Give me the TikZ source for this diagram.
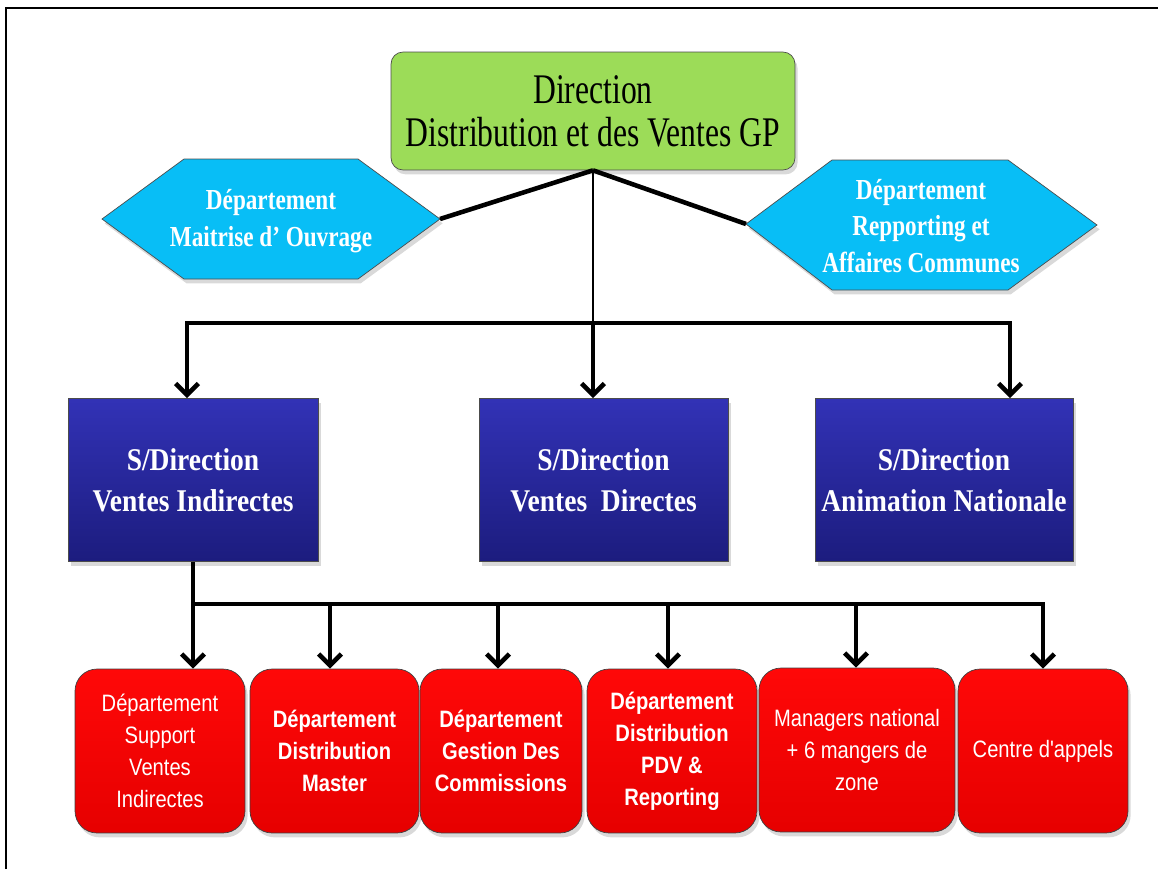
\documentclass[tikz,border=0pt]{standalone}
\usepackage{fontspec}
\usepackage{xcolor}
\usetikzlibrary{arrows.meta, positioning, shadows}
\newfontfamily\titlefont[FakeStretch=0.75]{Liberation Serif}
\newfontfamily\deptfont[FakeStretch=0.8]{Liberation Serif}
\newfontfamily\subfont[FakeStretch=0.87]{Liberation Serif}
\newfontfamily\boxfont[FakeStretch=0.85]{Liberation Sans}
\definecolor{dirgreen}{RGB}{156,220,88}
\definecolor{hexcyan}{RGB}{8,190,246}
\definecolor{sdtop}{RGB}{50,50,182}
\definecolor{sdbot}{RGB}{28,28,126}
\definecolor{redtop}{RGB}{255,8,8}
\definecolor{redbot}{RGB}{230,0,0}
\tikzset{
    softshadow/.style={drop shadow={opacity=0.3, shadow xshift=1.5pt, shadow yshift=-2.5pt}},
    head/.style={rectangle, draw=black!70, fill=dirgreen, rounded corners=0.24cm, minimum width=8.08cm, minimum height=2.36cm, align=center, font=\titlefont\fontsize{24}{24.5}\selectfont, softshadow},
    subdir/.style={rectangle, draw=black!70, top color=sdtop, bottom color=sdbot, minimum height=3.26cm, inner xsep=1pt, align=center, text=white, font=\subfont\bfseries\fontsize{18}{23.3}\selectfont, softshadow},
    dept/.style={rectangle, draw=black!75, rounded corners=0.44cm, top color=redtop, bottom color=redbot, minimum width=3.4cm, minimum height=3.28cm, align=center, text=white, font=\boxfont\fontsize{13.5}{18.2}\selectfont, softshadow},
    hexa/.style={draw=black!70, fill=hexcyan, softshadow},
    hextext/.style={align=center, text=white, font=\deptfont\bfseries\fontsize{16.5}{21}\selectfont},
    wire/.style={line width=2.6pt},
    arr/.style={line width=2.6pt, -{Straight Barb[length=6.5pt, width=13pt]}},
    arrtwo/.style={line width=2.6pt, {Straight Barb[length=6.5pt, width=13pt]}-{Straight Barb[length=6.5pt, width=13pt]}},
}

\begin{document}
\begin{tikzpicture}[x=0.02cm, y=-0.02cm]
    \useasboundingbox (0,0) rectangle (1166,869);
    % Frame
    \draw[line width=0.9pt] (6,869) -- (6,8) -- (1158,8);
    % Row 1: Direction
    \node [head] (dir) at (593,111) {Direction\\Distribution et des Ventes GP};
    % Row 1: side departments (hexagons)
    \draw [hexa] (102,219) -- (184,159) -- (358,159) -- (440,219) -- (358,279) -- (184,279) -- cycle;
    \coordinate (dmo-tip) at (440,219);
    \node [hextext] (dmo) at (271,221) {Département\\Maitrise d’ Ouvrage};
    \draw [hexa] (746,224) -- (832,160) -- (1008,160) -- (1097,225) -- (1008,290) -- (832,290) -- cycle;
    \coordinate (drac-tip) at (746,224);
    \node [hextext] (drac) at (921,226) {Département\\Repporting et\\Affaires Communes};
    % Row 2: Sous-directions
    \node [subdir, minimum width=5.0cm] (sdvi) at (193,480) {S/Direction\\Ventes Indirectes};
    \node [subdir, minimum width=4.98cm] (sdvd) at (603.5,480) {S/Direction\\Ventes~ Directes};
    \node [subdir, minimum width=5.16cm] (sdan) at (944,480) {S/Direction\\Animation Nationale};
    % Row 3: Departments under Ventes Indirectes
    \node [dept] (dsvi) at (160,751) {Département\\Support\\Ventes\\Indirectes};
    \node [dept, minimum width=3.38cm, font=\boxfont\bfseries\fontsize{13.5}{18.2}\selectfont] (ddm) at (334.5,751) {Département\\Distribution\\Master};
    \node [dept, minimum width=3.24cm, font=\boxfont\bfseries\fontsize{13.5}{18.2}\selectfont] (dgc) at (501,751) {Département\\Gestion Des\\Commissions};
    \node [dept, font=\boxfont\bfseries\fontsize{13.5}{18.2}\selectfont] (ddpr) at (672,751) {Département\\Distribution\\PDV \&\\Reporting};
    \node [dept, minimum width=3.92cm] (mgr) at (857,750) {Managers national\\+ 6 mangers de\\zone};
    \node [dept] (cda) at (1043,751) {Centre d'appels};
    % Links from Direction
    \draw [wire] (dir.south) -- (dmo-tip);
    \draw [wire] (dir.south) -- (drac-tip);
    \coordinate (bus-w) at (187,323);
    \coordinate (bus-c) at (dir.south |- bus-w);
    \coordinate (bus-e) at (1010,323);
    \draw [line width=1.5pt] (dir.south) -- (bus-c);
    \draw [arrtwo] (bus-w |- sdvi.north) -- (bus-w) -- (bus-e) -- (bus-e |- sdan.north);
    \draw [arr] (bus-c) -- (bus-c |- sdvd.north);
    % Links from Ventes Indirectes
    \coordinate (low-w) at (sdvi.south |- 0,604);
    \coordinate (low-e) at (cda.north |- 0,604);
    \draw [arr] (sdvi.south) -- (sdvi.south |- dsvi.north);
    \draw [arr] (low-w) -- (low-e) -- (cda.north);
    \foreach \x/\n in {330/ddm, 498/dgc, 668/ddpr, 856/mgr} {
        \coordinate (t) at (\x,604);
        \draw [arr] (t) -- (t |- \n.north);
    }
\end{tikzpicture}
\end{document}
